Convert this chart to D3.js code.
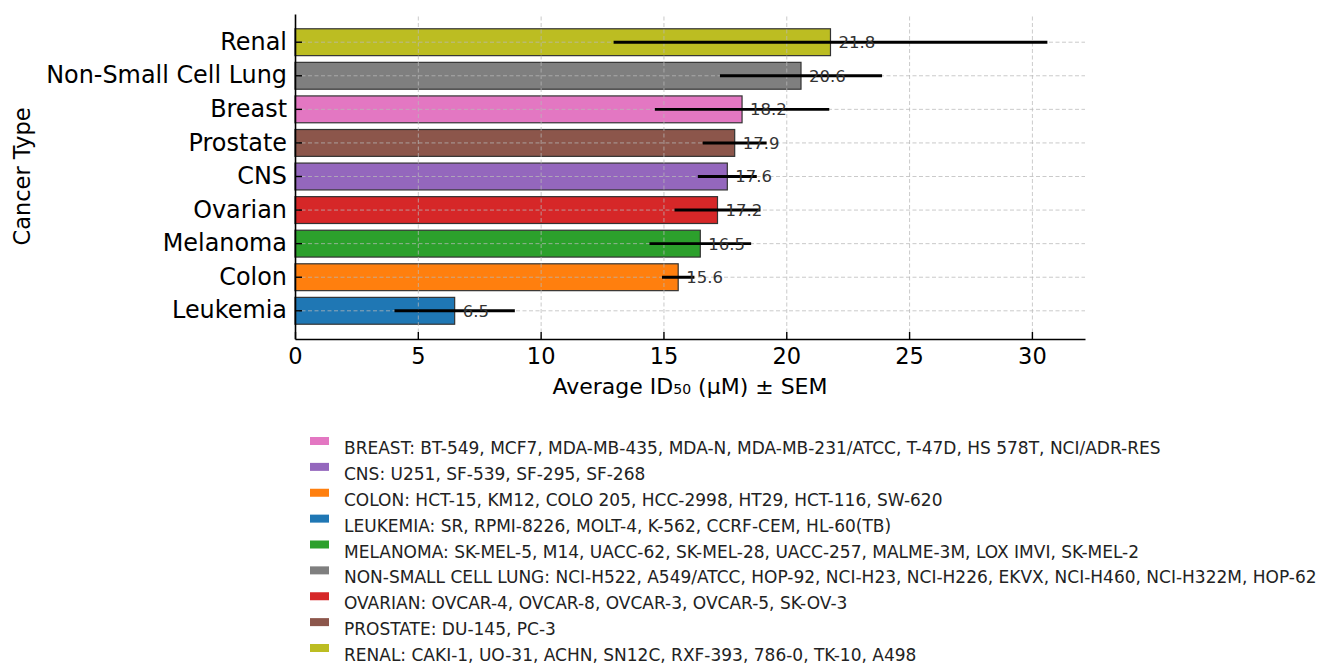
<!DOCTYPE html>
<html>
<head>
<meta charset="utf-8">
<script src="https://cdn.jsdelivr.net/npm/d3@7"></script>
<style>
  html, body { margin: 0; padding: 0; background: #fff; }
  svg { display: block; font-family: "DejaVu Sans", sans-serif; }
</style>
</head>
<body>
<svg id="chart" width="1317" height="665"></svg>
<script>
// Cancer panels, bottom to top as drawn
const categories = ["Leukemia", "Colon", "Melanoma", "Ovarian", "CNS", "Prostate", "Breast", "Non-Small Cell Lung", "Renal"];
const meanID50 = [6.5, 15.6, 16.5, 17.2, 17.6, 17.9, 18.2, 20.6, 21.8];
const semID50 = [2.45, 0.66, 2.07, 1.75, 1.2, 1.3, 3.55, 3.3, 8.83];
const barColors = ["#1f77b4", "#ff7f0e", "#2ca02c", "#d62728", "#9467bd", "#8c564b", "#e377c2", "#7f7f7f", "#bcbd22"];
const xTicks = [0, 5, 10, 15, 20, 25, 30];

// Legend entries (alphabetical) with their cell lines
const legendKeys = ["Breast", "CNS", "Colon", "Leukemia", "Melanoma", "Non-Small Cell Lung", "Ovarian", "Prostate", "Renal"];
const legendLabels = [
  "BREAST: BT-549, MCF7, MDA-MB-435, MDA-N, MDA-MB-231/ATCC, T-47D, HS 578T, NCI/ADR-RES",
  "CNS: U251, SF-539, SF-295, SF-268",
  "COLON: HCT-15, KM12, COLO 205, HCC-2998, HT29, HCT-116, SW-620",
  "LEUKEMIA: SR, RPMI-8226, MOLT-4, K-562, CCRF-CEM, HL-60(TB)",
  "MELANOMA: SK-MEL-5, M14, UACC-62, SK-MEL-28, UACC-257, MALME-3M, LOX IMVI, SK-MEL-2",
  "NON-SMALL CELL LUNG: NCI-H522, A549/ATCC, HOP-92, NCI-H23, NCI-H226, EKVX, NCI-H460, NCI-H322M, HOP-62",
  "OVARIAN: OVCAR-4, OVCAR-8, OVCAR-3, OVCAR-5, SK-OV-3",
  "PROSTATE: DU-145, PC-3",
  "RENAL: CAKI-1, UO-31, ACHN, SN12C, RXF-393, 786-0, TK-10, A498"
];

const rows = categories.map((c, i) => ({ cat: c, v: meanID50[i], e: semID50[i], color: barColors[i] }));
const colorOf = new Map(rows.map(d => [d.cat, d.color]));

const svg = d3.select("#chart");
const plot = { left: 295, right: 1085, top: 14, bottom: 339 };

const xMax = d3.max(rows, d => d.v + d.e) * 1.05;
const x = d3.scaleLinear().domain([0, xMax]).range([plot.left, plot.right]);
const y = d3.scaleBand()
  .domain(categories)
  .range([plot.bottom, plot.top])
  .paddingInner(0.2)
  .paddingOuter(0.44);
const yc = c => y(c) + y.bandwidth() / 2;

// Bars
svg.append("g").selectAll("rect").data(rows).join("rect")
  .attr("x", x(0))
  .attr("y", d => y(d.cat))
  .attr("width", d => x(d.v) - x(0))
  .attr("height", y.bandwidth())
  .attr("fill", d => d.color)
  .attr("stroke", "#333")
  .attr("stroke-width", 1.2);

// Dashed grid above the bars
const gridStyle = g => {
  g.select(".domain").remove();
  g.selectAll(".tick line")
    .attr("stroke", "#b8b8b8")
    .attr("stroke-opacity", 0.75)
    .attr("stroke-width", 1)
    .attr("stroke-dasharray", "4,2.5");
  g.selectAll(".tick text").remove();
};
svg.append("g")
  .attr("transform", `translate(0,${plot.bottom})`)
  .call(d3.axisBottom(x).tickValues(xTicks.filter(t => t > 0)).tickSize(-(plot.bottom - plot.top)))
  .call(gridStyle);
svg.append("g")
  .attr("transform", `translate(${plot.left},0)`)
  .call(d3.axisLeft(y).tickSize(-(plot.right - plot.left)))
  .call(gridStyle);

// Error bars (± SEM)
svg.append("g").selectAll("line").data(rows).join("line")
  .attr("x1", d => x(d.v - d.e))
  .attr("x2", d => x(d.v + d.e))
  .attr("y1", d => yc(d.cat))
  .attr("y2", d => yc(d.cat))
  .attr("stroke", "#000")
  .attr("stroke-width", 2.9);

// Value labels
svg.append("g").selectAll("text").data(rows).join("text")
  .attr("x", d => x(d.v) + 8)
  .attr("y", d => yc(d.cat))
  .attr("dy", "0.36em")
  .attr("font-size", 16.5)
  .attr("fill", "#333")
  .text(d => d.v.toFixed(1));

// Axes
const axisStyle = g => {
  g.select(".domain").attr("stroke", "#000").attr("stroke-width", 1.6);
  g.selectAll(".tick line").attr("stroke", "#000").attr("stroke-width", 1.4);
  g.selectAll(".tick text").attr("fill", "#000").attr("font-family", "DejaVu Sans, sans-serif");
};
svg.append("g")
  .attr("transform", `translate(0,${plot.bottom})`)
  .call(d3.axisBottom(x).tickValues(xTicks).tickFormat(d3.format("d")).tickSizeInner(-7).tickSizeOuter(0).tickPadding(9))
  .call(axisStyle)
  .call(g => g.selectAll(".tick text").attr("font-size", 22.5));
svg.append("g")
  .attr("transform", `translate(${plot.left},0)`)
  .call(d3.axisLeft(y).tickSizeInner(-7).tickSizeOuter(0).tickPadding(8))
  .call(axisStyle)
  .call(g => g.selectAll(".tick text").attr("font-size", 23.9));

// Axis titles
const xTitle = svg.append("text")
  .attr("x", (plot.left + plot.right) / 2)
  .attr("y", 394)
  .attr("text-anchor", "middle")
  .attr("font-size", 22)
  .attr("fill", "#000");
xTitle.append("tspan").text("Average ID");
xTitle.append("tspan").attr("font-size", 14).text("50");
xTitle.append("tspan").text(" (μM) ± SEM");

svg.append("text")
  .attr("transform", `translate(30,${(plot.top + plot.bottom) / 2}) rotate(-90)`)
  .attr("text-anchor", "middle")
  .attr("font-size", 22.5)
  .attr("fill", "#000")
  .text("Cancer Type");

// Legend
const legend = svg.append("g").attr("transform", "translate(310,0)");
const rowY = d3.scaleLinear().domain([0, legendKeys.length - 1]).range([448, 655]);
legendKeys.forEach((k, i) => {
  legend.append("rect")
    .attr("x", 0)
    .attr("y", rowY(i) - 11)
    .attr("width", 19)
    .attr("height", 8)
    .attr("fill", colorOf.get(k));
  legend.append("text")
    .attr("x", 34)
    .attr("y", rowY(i))
    .attr("dy", "0.36em")
    .attr("font-size", 17)
    .attr("fill", "#222")
    .text(legendLabels[i]);
});
</script>
</body>
</html>
